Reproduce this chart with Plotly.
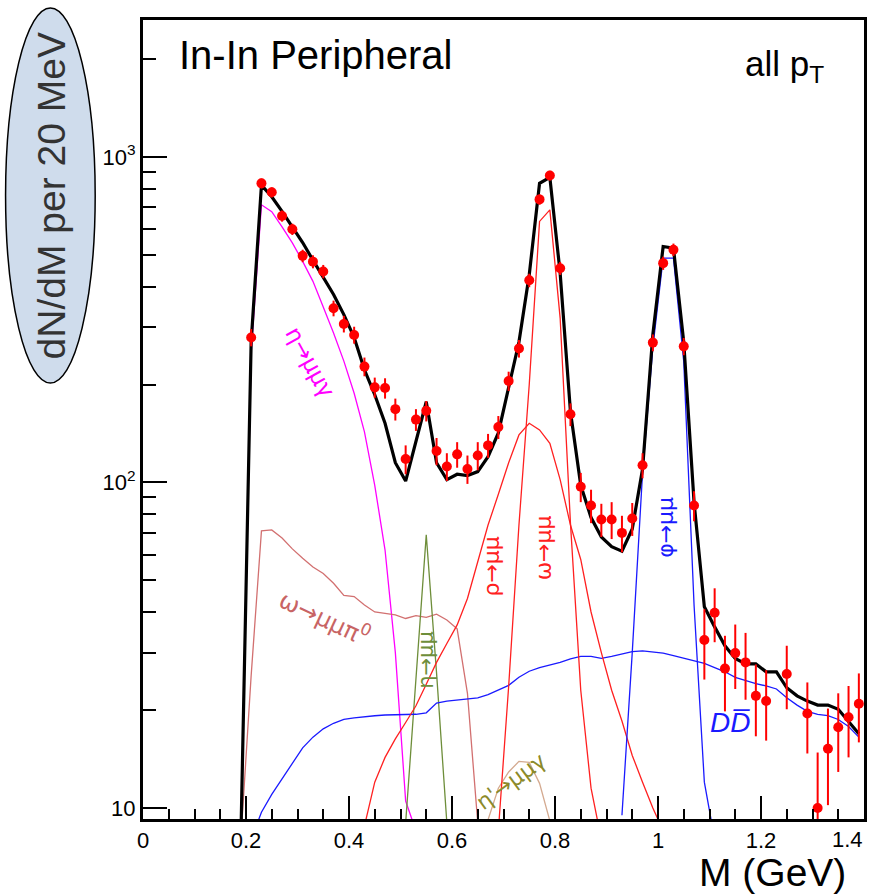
import plotly.graph_objects as go

# ---------------- data (bin centres in GeV, 20 MeV bins) ----------------
mass = [0.19, 0.21, 0.23, 0.25, 0.27, 0.29, 0.31, 0.33, 0.35, 0.37,
        0.39, 0.41, 0.43, 0.45, 0.47, 0.49, 0.51, 0.53, 0.55, 0.57,
        0.59, 0.61, 0.63, 0.65, 0.67, 0.69, 0.71, 0.73, 0.75, 0.77,
        0.79, 0.81, 0.83, 0.85, 0.87, 0.89, 0.91, 0.93, 0.95, 0.97,
        0.99, 1.01, 1.03, 1.05, 1.07, 1.09, 1.11, 1.13, 1.15, 1.17,
        1.19, 1.21, 1.23, 1.25, 1.27, 1.29, 1.31, 1.33, 1.35, 1.37,
        1.39]

data_counts = [None, 279, 830, 779, 659, 600, 497, 477, 445, 343,
               307, 284, 227, 196, 195, 168, 118, 156, 166, 125,
               112, 122, 110, 121, 130, 148, 205, 258, 418, 741,
               877, 455, 162, 97, 85, 77, 77, 70, 77.5, 113,
               269, 472, 519, 262, 85, 32.8, 39.8, 26.8, 29.9, 28,
               22.1, 21.3, None, 25.8, None, 19.5, 10, 15.2, 17.7, 19,
               20.9]

data_err = [None, 17, 29, 28, 26, 24, 22, 22, 21, 19,
            18, 17, 15, 14, 14, 13, 12, 12, 12, 12,
            11, 11, 11, 12, 11, 12, 14, 16, 20, 27,
            30, 21, 13, 10, 10, 9, 10, 9, 9, 10,
            16, 22, 23, 16, 9, 8, 7.5, 7, 6.7, 6.5,
            5.5, 5.2, None, 5.7, None, 4.8, 4.8, 5, 4.8, 4.7,
            5]

total_sum = [8, 270, 820, 755, 681, 610, 546, 482, 426, 378,
             328, 279, 222, 186, 152, 115, 101, 134, 177, 115,
             102, 106, 105, 108, 120, 142, 195, 270, 435, 830,
             866, 440, 165, 98, 78, 68, 63.5, 61.5, 72, 110,
             285, 531, 525, 270, 87, 41.5, 36, 31.5, 28.8, 27.7,
             27.7, 26.2, 26.2, 23.4, 22.1, 21.3, 20.7, 20.7, 20.1, 18.4,
             16.9]

eta_dalitz = [8, 250, 713, 679, 610, 545, 478, 415, 346, 288,
              236, 188, 143, 98, 62, 30, 10.5, 8.5] + [None] * 43

omega_dalitz = [8, 25.5, 71, 71.5, 67.5, 62.5, 58.5, 55, 52.5, 49,
                45, 44.6, 42, 40, 39.6, 39.2, 38.2, 39, 38.5, 39.4,
                37.8, 35.5, 22.5, 9] + [None] * 37

eta_mumu = [None] * 16 + [9, 25, 69, 26, 9] + [None] * 40

rho_mumu = [None] * 12 + [8.8, 12, 14.3, 16.3, 18.3, 20.6, 24, 28,
                          32, 36.5, 44, 57, 74, 92, 115, 140, 152, 145,
                          132, 102, 74, 58, 40, 30, 23, 18.5, 14.5, 12,
                          10, 8.5] + [None] * 19

omega_mumu = [None] * 25 + [8.5, 23.6, 74, 200, 634, 688, 320, 75, 23,
                            11.5, 8] + [None] * 25

phi_mumu = [None] * 37 + [9.5, 30, 107, 260, 489, 489, 235, 42, 12,
                          8] + [None] * 14

open_charm = [None, 8, 9.7, 11, 12.3, 13.7, 15.3, 16.5, 17.5, 18.2,
              18.7, 18.9, 19.1, 19.2, 19.3, 19.3, 19.4, 19.4, 19.6, 21.0,
              21.3, 21.5, 21.6, 21.8, 22.3, 23, 23.8, 25.2, 26.3, 27,
              27.5, 28, 28.7, 29.2, 29.2, 28.8, 29.2, 29.7, 30.2, 30.4,
              30.2, 29.9, 29.4, 28.9, 28.4, 27.8, 27, 26.2, 25.2, 24.6,
              24.1, 23.7, 23.2, 21.8, 20.7, 19.8, 19.4, 19.2, 18.7, 17.8,
              16.5]

etap_dalitz = [None] * 23 + [8, 9.2, 11.5, 12.9, 13.9, 13.8, 11.9, 9,
                             7] + [None] * 30

x_ticks = [0, 0.2, 0.4, 0.6, 0.8, 1.0, 1.2, 1.4]
x_tick_text = ["0", "0.2", "0.4", "0.6", "0.8", "1", "1.2", ""]
x_last_label = "1.4"
y_ticks = [10, 100, 1000]
y_tick_text = ["10", "10<sup>2</sup>", "10<sup>3</sup>"]
y_minor = [20, 30, 40, 50, 60, 70, 80, 90,
           200, 300, 400, 500, 600, 700, 800, 900, 2000]

# ---------------- figure ----------------
FONT = "Liberation Sans, Arial, Helvetica, sans-serif"
GREEK = "DejaVu Sans, Liberation Sans, sans-serif"
W, H = 868, 894
L, R, T, B = 143, 1, 20, 75
PW, PH = W - L - R, H - T - B


def px(x):
    return (x - L) / PW


def py(y):
    return (H - B - y) / PH


fig = go.Figure()

components = [
    (eta_dalitz, "#ff00ff"),
    (omega_dalitz, "#d27070"),
    (eta_mumu, "#6e8e3a"),
    (etap_dalitz, "#d4aa90"),
    (open_charm, "#1a1aff"),
    (rho_mumu, "#ff2020"),
    (omega_mumu, "#ff2020"),
    (phi_mumu, "#1a1aff"),
]
for vals, col in components:
    fig.add_trace(go.Scatter(x=mass, y=vals, mode="lines",
                             line=dict(color=col, width=1.3),
                             hoverinfo="skip", showlegend=False))

fig.add_trace(go.Scatter(x=mass, y=total_sum, mode="lines",
                         line=dict(color="black", width=3.2),
                         showlegend=False))

fig.add_trace(go.Scatter(x=mass, y=data_counts, mode="markers",
                         marker=dict(color="#ff0000", size=10),
                         error_y=dict(type="data", array=data_err,
                                      color="#ff0000", thickness=2, width=0),
                         showlegend=False))

fig.update_layout(
    width=W, height=H, autosize=False,
    margin=dict(l=L, r=R, t=T, b=B, pad=0),
    paper_bgcolor="white", plot_bgcolor="white",
    font=dict(family=FONT, color="black"),
    showlegend=False,
)

fig.update_xaxes(
    range=[0, 1.4], showgrid=False, zeroline=False,
    showline=True, linecolor="black", linewidth=3, mirror=True,
    ticks="inside", ticklen=23, tickwidth=2, tickcolor="black",
    tickmode="array", tickvals=x_ticks, ticktext=x_tick_text,
    tickfont=dict(size=22, family=FONT),
    minor=dict(dtick=0.05, tick0=0, ticks="inside", ticklen=10,
               tickwidth=1.5, tickcolor="black", showgrid=False),
)

fig.update_yaxes(
    type="log", range=[0.966, 3.421], showgrid=False, zeroline=False,
    showline=True, linecolor="black", linewidth=3, mirror=True,
    ticks="inside", ticklen=24, tickwidth=2, tickcolor="black",
    tickmode="array", tickvals=y_ticks, ticktext=y_tick_text,
    tickfont=dict(size=22, family=FONT),
    minor=dict(tickmode="array", tickvals=y_minor, ticks="inside",
               ticklen=13, tickwidth=1.5, tickcolor="black",
               showgrid=False),
)

# y-title ellipse
fig.add_shape(type="circle", xref="paper", yref="paper",
              x0=px(5), x1=px(95), y0=py(383), y1=py(8),
              fillcolor="#cfdcec", line=dict(color="black", width=1.5),
              layer="above")


def add_text(text, x, y, size, color="black", angle=0,
             xanchor="center", yanchor="middle", italic=False, family=FONT):
    fig.add_annotation(text=text, x=px(x), y=py(y), xref="paper",
                       yref="paper", showarrow=False, textangle=angle,
                       xanchor=xanchor, yanchor=yanchor,
                       font=dict(size=size, color=color, family=family,
                                 style="italic" if italic else "normal"))


# last x tick label kept inside the page edge
add_text(x_last_label, 868, 840, 22, xanchor="right")

add_text("dN/dM per 20 MeV", 51, 196, 39, color="#333333", angle=-90)
add_text("M (GeV)", 851, 872, 39, xanchor="right")
add_text("In-In Peripheral", 177, 55, 40, xanchor="left")
add_text("all p<sub>T</sub>", 745, 66, 35, xanchor="left")

add_text("η→μμγ", 311, 362, 23, color="#ff00ff", angle=61, family=GREEK)
add_text("ω→μμπ<sup>0</sup>", 326, 617, 24, color="#c86464", angle=25,
         family=GREEK)
add_text("η→μμ", 427, 660, 21, color="#6e8e3a", angle=-90, family=GREEK)
add_text("ρ→μμ", 492, 567, 22, color="#ff2020", angle=-90, family=GREEK)
add_text("ω→μμ", 545, 548, 22, color="#ff2020", angle=-90, family=GREEK)
add_text("φ→μμ", 667, 527, 22, color="#1a1aff", angle=-90, family=GREEK)
add_text("η'→μμγ", 512, 781, 22, color="#8c8a2a", angle=-36, family=GREEK)
add_text("DD\u0305", 732, 722, 28, color="#1a1aff", italic=True)

fig.write_html("out.html", config={"responsive": False},
               post_script="document.body.style.margin='0';")
